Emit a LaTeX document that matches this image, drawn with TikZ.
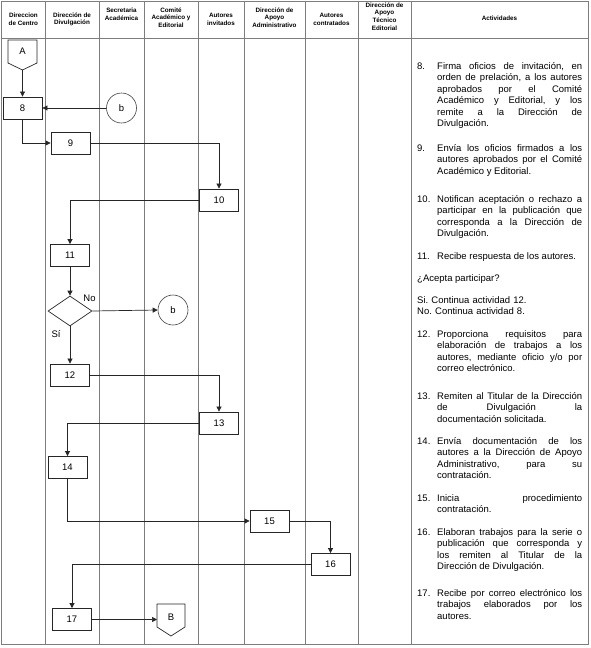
\documentclass[tikz,border=0pt]{standalone}
\usepackage{fontspec}
\setmainfont{Liberation Sans}
\usetikzlibrary{arrows.meta,shapes.geometric}
\definecolor{gridgray}{RGB}{125,125,125}
\frenchspacing
\tikzset{
  tablegrid/.style={draw=gridgray, line width=0.8pt},
  shapeline/.style={draw=black!85, line width=0.7pt},
  box/.style={draw=black!85, line width=0.8pt, minimum width=39pt, minimum height=22pt, inner sep=0pt, font=\fontsize{9.5}{11}\selectfont},
  dia/.style={draw=black!85, line width=0.7pt, diamond, aspect=1.47, minimum width=44pt, minimum height=30pt, inner sep=0pt},
  conncirc/.style={draw=black!75, line width=0.6pt, circle, minimum size=30pt, inner sep=0pt, font=\fontsize{9.5}{11}\selectfont},
  lbl/.style={inner sep=0pt, font=\fontsize{9.5}{11}\selectfont},
  conn/.style={draw=black!85, line width=0.7pt, -{Triangle[length=5pt,width=5pt]}},
  hdr/.style={font=\bfseries\fontsize{6.3}{7.6}\selectfont, align=center, inner sep=0pt},
  act/.style={anchor=north west, inner sep=0pt, text width=165pt, align=justify, font=\fontsize{9.5}{11.5}\selectfont},
}
\newcommand\itemnum[1]{\hangindent=20pt\hangafter=1\noindent\strut\makebox[20pt][l]{#1}}
\begin{document}
\begin{tikzpicture}[x=1pt,y=-1pt]
\useasboundingbox (0,0) rectangle (590,648);
% table
\draw[tablegrid] (1.5,1) rectangle (588,644);
\draw[tablegrid] (1.5,38) -- (588,38);
\foreach \x in {45,99,144,198,244,305,358,411} \draw[tablegrid] (\x,1) -- (\x,644);
% header
\node[hdr] (h1) at (23.4,19.5) {Direccion\\de Centro};
\node[hdr] (h2) at (72,19.5) {Dirección de\\Divulgación};
\node[hdr] (h3) at (121.5,14) {Secretaria\\Académica};
\node[hdr] (h4) at (171,17.5) {Comité\\Académico y\\Editorial};
\node[hdr] (h5) at (221,19.5) {Autores\\invitados};
\node[hdr] (h6) at (274.5,17.5) {Dirección de\\Apoyo\\Administrativo};
\node[hdr] (h7) at (331.5,19.5) {Autores\\contratados};
\node[hdr] (h8) at (384.5,16.5) {Dirección de\\Apoyo\\Técnico\\Editorial};
\node[hdr] (h9) at (499.5,18) {Actividades};
% connectors A and B
\draw[shapeline] (8,40) -- (37,40) -- (37,63) -- (22.5,70) -- (8,63) -- cycle;
\node[lbl] (A) at (22.5,51.5) {A};
\coordinate (Atip) at (22.5,70);
\draw[shapeline] (157,604) -- (185,604) -- (185,627) -- (171,636) -- (157,627) -- cycle;
\node[lbl] (B) at (171,617) {B};
\coordinate (Bw) at (157,619.5);
% boxes
\node[box] (n8) at (22.5,108) {8};
\node[box] (n9) at (70.5,143) {9};
\node[box] (n10) at (219,200) {10};
\node[box] (n11) at (70,255.5) {11};
\node[dia] (d) at (70,311) {};
\node[box] (n12) at (70,375) {12};
\node[box] (n13) at (219,423) {13};
\node[box] (n14) at (67.5,467.5) {14};
\node[box] (n15) at (269.5,521) {15};
\node[box] (n16) at (330.5,564.5) {16};
\node[box] (n17) at (72,619.5) {17};
\node[conncirc] (b1) at (121.5,108) {b};
\node[conncirc] (b2) at (173,310) {b};
\node[lbl] (no) at (89.5,298) {No};
\node[lbl] (si) at (56,334) {Sí};
% flow
\draw[conn] (Atip) -- (n8.north);
\draw[conn] (b1.west) -- (n8.east);
\draw[conn] (n8.south) |- (n9.west);
\draw[conn] (n9.east) -| (n10.north);
\draw[conn] (n10.west) -| (n11.north);
\draw[conn] (n11.south) -- (d.north);
\draw[conn] (d.east) -- (b2.west);
\draw[conn] (d.south) -- (n12.north);
\draw[conn] (n12.east) -| (n13.north);
\draw[conn] (n13.west) -| (n14.north);
\draw[conn] (n14.south) |- (n15.west);
\draw[conn] (n15.east) -| (n16.north);
\draw[conn] (n16.west) -| (n17.north);
\draw[conn] (n17.east) -- (Bw);
% activities
\node[act] (t8) at (417,61) {\itemnum{8.}Firma oficios de invitación, en\linebreak orden de prelación, a los autores\linebreak aprobados por el Comité\linebreak Académico y Editorial, y los\linebreak remite a la Dirección de\linebreak Divulgación.\par};
\node[act] (t9) at (417,143) {\itemnum{9.}Envía los oficios firmados a los\linebreak autores aprobados por el Comité\linebreak Académico y Editorial.\par};
\node[act] (t10) at (417,194) {\itemnum{10.}Notifican aceptación o rechazo a\linebreak participar en la publicación que\linebreak corresponda a la Dirección de\linebreak Divulgación.\par};
\node[act] (t11) at (417,251) {\itemnum{11.}Recibe respuesta de los autores.\par};
\node[act] (tq) at (417,273) {\noindent\strut¿Acepta participar?\par};
\node[act, align=left] (tsn) at (417,295) {\strut Si. Continua actividad 12.\\ No. Continua actividad 8.};
\node[act] (t12) at (417,329) {\itemnum{12.}Proporciona requisitos para\linebreak elaboración de trabajos a los\linebreak autores, mediante oficio y/o por\linebreak correo electrónico.\par};
\node[act] (t13) at (417,391) {\itemnum{13.}Remiten al Titular de la Dirección\linebreak de Divulgación la\linebreak documentación solicitada.\par};
\node[act] (t14) at (417,436) {\itemnum{14.}Envía documentación de los\linebreak autores a la Dirección de Apoyo\linebreak Administrativo, para su\linebreak contratación.\par};
\node[act] (t15) at (417,493) {\itemnum{15.}Inicia procedimiento\linebreak contratación.\par};
\node[act] (t16) at (417,527) {\itemnum{16.}Elaboran trabajos para la serie o\linebreak publicación que corresponda y\linebreak los remiten al Titular de la\linebreak Dirección de Divulgación.\par};
\node[act] (t17) at (417,588) {\itemnum{17.}Recibe por correo electrónico los\linebreak trabajos elaborados por los\linebreak autores.\par};
\end{tikzpicture}
\end{document}
